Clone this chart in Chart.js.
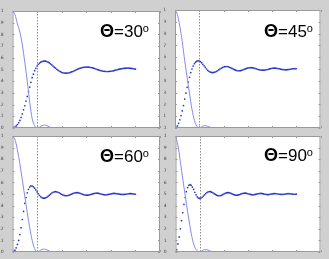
<!DOCTYPE html>
<html>
<head>
<meta charset="utf-8">
<script src="https://cdn.jsdelivr.net/npm/chart.js@4.4.1/dist/chart.umd.min.js"></script>
<style>
	html, body { margin: 0; padding: 0; width: 329px; height: 259px; overflow: hidden; background: #d0d0d0; }
	.panel { position: absolute; }
	.lbl { position: absolute; font-family: "Liberation Sans", Arial, sans-serif; font-size: 17px; line-height: 17px; color: #000; white-space: nowrap; }
	.lbl b { font-weight: bold; font-size: 18px; }
	.lbl sup { font-size: 11px; vertical-align: top; position: relative; top: -3px; }
</style>
</head>
<body>
<div class="panel" style="left:0;top:0;width:164px;height:132px"><canvas id="c30"></canvas></div>
<div class="panel" style="left:164px;top:0;width:165px;height:132px"><canvas id="c45"></canvas></div>
<div class="panel" style="left:0;top:132px;width:164px;height:127px"><canvas id="c60"></canvas></div>
<div class="panel" style="left:164px;top:132px;width:165px;height:127px"><canvas id="c90"></canvas></div>
<div class="lbl" style="left:100px;top:23px"><b>&Theta;</b>=30<sup>o</sup></div>
<div class="lbl" style="left:264px;top:23px"><b>&Theta;</b>=45<sup>o</sup></div>
<div class="lbl" style="left:100px;top:148px"><b>&Theta;</b>=60<sup>o</sup></div>
<div class="lbl" style="left:264px;top:147px"><b>&Theta;</b>=90<sup>o</sup></div>
<script>
// время для сплошной кривой
const solidT = [0, 0.1, 0.2, 0.3, 0.4, 0.5, 0.6, 0.7, 0.8, 0.9, 1, 1.1, 1.2, 1.3, 1.4, 1.5, 1.6, 5]
const solid30 = [1, 0.97, 0.89, 0.82, 0.71, 0.56, 0.4, 0.22, 0.08, 0.02, 0, 0.008, 0.02, 0.025, 0.02, 0.01, 0.002, 0]
const solid45 = [1, 0.96, 0.86, 0.73, 0.57, 0.43, 0.29, 0.16, 0.065, 0.015, 0, 0.01, 0.02, 0.018, 0.01, 0.003, 0, 0]
const solid60 = [1, 0.97, 0.88, 0.76, 0.62, 0.48, 0.34, 0.21, 0.1, 0.03, 0, 0.01, 0.022, 0.025, 0.018, 0.008, 0, 0]
const solid90 = [1, 0.92, 0.78, 0.63, 0.49, 0.35, 0.22, 0.11, 0.04, 0.01, 0, 0.01, 0.02, 0.02, 0.012, 0.004, 0, 0]

// время для точечной кривой
const dotT = [0, 0.05, 0.1, 0.15, 0.2, 0.25, 0.3, 0.35, 0.4, 0.45,
	0.5, 0.55, 0.6, 0.65, 0.7, 0.75, 0.8, 0.85, 0.9, 0.95,
	1, 1.05, 1.1, 1.15, 1.2, 1.25, 1.3, 1.35, 1.4, 1.45,
	1.5, 1.55, 1.6, 1.65, 1.7, 1.75, 1.8, 1.85, 1.9, 1.95,
	2, 2.05, 2.1, 2.15, 2.2, 2.25, 2.3, 2.35, 2.4, 2.45,
	2.5, 2.55, 2.6, 2.65, 2.7, 2.75, 2.8, 2.85, 2.9, 2.95,
	3, 3.05, 3.1, 3.15, 3.2, 3.25, 3.3, 3.35, 3.4, 3.45,
	3.5, 3.55, 3.6, 3.65, 3.7, 3.75, 3.8, 3.85, 3.9, 3.95,
	4, 4.05, 4.1, 4.15, 4.2, 4.25, 4.3, 4.35, 4.4, 4.45,
	4.5, 4.55, 4.6, 4.65, 4.7, 4.75, 4.8, 4.85, 4.9, 4.95, 5]

const dot30 = [0, 0.002, 0.008, 0.018, 0.03, 0.045, 0.065, 0.09, 0.12, 0.155,
	0.19, 0.23, 0.27, 0.31, 0.35, 0.39, 0.43, 0.46, 0.49, 0.51,
	0.53, 0.545, 0.555, 0.563, 0.568, 0.571, 0.572, 0.571, 0.568, 0.563,
	0.556, 0.548, 0.539, 0.53, 0.52, 0.511, 0.502, 0.494, 0.487, 0.481,
	0.476, 0.472, 0.47, 0.469, 0.469, 0.47, 0.472, 0.475, 0.479, 0.483,
	0.488, 0.493, 0.498, 0.503, 0.507, 0.511, 0.514, 0.517, 0.519, 0.52,
	0.521, 0.521, 0.52, 0.519, 0.517, 0.514, 0.511, 0.508, 0.504, 0.5,
	0.496, 0.493, 0.49, 0.487, 0.485, 0.484, 0.483, 0.483, 0.483, 0.484,
	0.485, 0.487, 0.489, 0.492, 0.495, 0.498, 0.501, 0.503, 0.505, 0.507,
	0.509, 0.51, 0.511, 0.511, 0.511, 0.511, 0.51, 0.509, 0.507, 0.506, 0.504]

const dot45 = [0, 0.005, 0.018, 0.04, 0.07, 0.105, 0.145, 0.19, 0.245, 0.295,
	0.345, 0.39, 0.43, 0.47, 0.5, 0.525, 0.545, 0.558, 0.566, 0.57,
	0.568, 0.562, 0.552, 0.54, 0.527, 0.513, 0.5, 0.489, 0.48, 0.474,
	0.471, 0.47, 0.471, 0.474, 0.479, 0.485, 0.492, 0.499, 0.506, 0.512,
	0.517, 0.52, 0.521, 0.521, 0.519, 0.515, 0.51, 0.505, 0.499, 0.494,
	0.49, 0.487, 0.485, 0.485, 0.486, 0.489, 0.493, 0.497, 0.501, 0.505,
	0.508, 0.51, 0.511, 0.511, 0.51, 0.508, 0.505, 0.502, 0.498, 0.495,
	0.493, 0.491, 0.49, 0.49, 0.491, 0.493, 0.495, 0.498, 0.501, 0.504,
	0.506, 0.507, 0.508, 0.507, 0.506, 0.504, 0.502, 0.499, 0.497, 0.495,
	0.494, 0.493, 0.493, 0.494, 0.496, 0.498, 0.5, 0.502, 0.503, 0.503, 0.502]

const dot60 = [0, 0.004, 0.016, 0.036, 0.065, 0.1, 0.15, 0.21, 0.28, 0.35,
	0.42, 0.47, 0.51, 0.54, 0.56, 0.57, 0.569, 0.562, 0.55, 0.535,
	0.518, 0.502, 0.488, 0.476, 0.468, 0.464, 0.464, 0.467, 0.473, 0.481,
	0.49, 0.499, 0.508, 0.515, 0.519, 0.52, 0.519, 0.515, 0.51, 0.504,
	0.498, 0.492, 0.488, 0.486, 0.485, 0.487, 0.49, 0.494, 0.499, 0.504,
	0.508, 0.51, 0.511, 0.511, 0.509, 0.506, 0.502, 0.498, 0.494, 0.491,
	0.49, 0.49, 0.491, 0.494, 0.497, 0.501, 0.504, 0.506, 0.507, 0.507,
	0.506, 0.503, 0.5, 0.497, 0.495, 0.493, 0.493, 0.494, 0.496, 0.498,
	0.501, 0.503, 0.505, 0.505, 0.504, 0.503, 0.501, 0.499, 0.497, 0.496,
	0.496, 0.496, 0.498, 0.5, 0.502, 0.503, 0.503, 0.503, 0.501, 0.5, 0.498]

const dot90 = [0, 0.02, 0.07, 0.13, 0.2, 0.27, 0.34, 0.41, 0.47, 0.52,
	0.555, 0.575, 0.58, 0.575, 0.56, 0.54, 0.515, 0.493, 0.475, 0.465,
	0.462, 0.465, 0.472, 0.482, 0.493, 0.504, 0.513, 0.519, 0.521, 0.52,
	0.516, 0.51, 0.503, 0.496, 0.49, 0.486, 0.485, 0.486, 0.489, 0.494,
	0.5, 0.505, 0.509, 0.511, 0.511, 0.509, 0.505, 0.5, 0.496, 0.492,
	0.49, 0.49, 0.492, 0.495, 0.499, 0.503, 0.506, 0.507, 0.507, 0.505,
	0.502, 0.499, 0.496, 0.494, 0.493, 0.494, 0.496, 0.499, 0.502, 0.504,
	0.505, 0.505, 0.503, 0.501, 0.498, 0.496, 0.495, 0.495, 0.497, 0.499,
	0.501, 0.503, 0.504, 0.504, 0.502, 0.5, 0.498, 0.497, 0.496, 0.497,
	0.498, 0.5, 0.502, 0.503, 0.503, 0.502, 0.5, 0.499, 0.498, 0.498, 0.499]

// вертикальная пунктирная линия
const markerT = 1
const xTicks = [0, 1, 2, 3, 4, 5, 6]
const yTicks = [0, 0.1, 0.2, 0.3, 0.4, 0.5, 0.6, 0.7, 0.8, 0.9, 1]

const framePlugin = {
	id: 'frame',
	beforeDraw(chart) {
		const { ctx, chartArea: a } = chart
		ctx.save()
		ctx.fillStyle = '#ffffff'
		ctx.fillRect(a.left, a.top, a.right - a.left, a.bottom - a.top)
		ctx.restore()
	},
	beforeDatasetsDraw(chart) {
		const { ctx, chartArea: a, scales } = chart
		const px = Math.round(scales.x.getPixelForValue(markerT)) + 0.5
		ctx.save()
		ctx.strokeStyle = '#8c8c8c'
		ctx.lineWidth = 1
		ctx.setLineDash([1.5, 1.5])
		ctx.beginPath()
		ctx.moveTo(px, a.top)
		ctx.lineTo(px, a.bottom)
		ctx.stroke()
		ctx.restore()
	},
	afterDraw(chart) {
		const { ctx, chartArea: a, scales } = chart
		ctx.save()
		ctx.strokeStyle = '#9a9a9a'
		ctx.lineWidth = 1
		ctx.strokeRect(a.left + 0.5, a.top + 0.5, a.right - a.left - 1, a.bottom - a.top - 1)
		ctx.beginPath()
		xTicks.forEach(v => {
			const p = Math.round(scales.x.getPixelForValue(v)) + 0.5
			ctx.moveTo(p, a.bottom); ctx.lineTo(p, a.bottom - 2)
			ctx.moveTo(p, a.top); ctx.lineTo(p, a.top + 2)
		})
		yTicks.forEach(v => {
			const p = Math.round(scales.y.getPixelForValue(v)) + 0.5
			ctx.moveTo(a.left, p); ctx.lineTo(a.left + 2, p)
			ctx.moveTo(a.right, p); ctx.lineTo(a.right - 2, p)
		})
		ctx.stroke()
		ctx.restore()
	}
}

function toPoints(ts, vs) {
	return ts.map((t, i) => ({ x: t, y: vs[i] }))
}

function makeChart(id, solid, dots, box) {
	const el = document.getElementById(id)
	new Chart(el, {
		type: 'line',
		data: {
			datasets: [
				{
					data: toPoints(solidT, solid),
					borderColor: '#8589ea',
					borderWidth: 1,
					pointRadius: 0,
					cubicInterpolationMode: 'monotone',
				},
				{
					data: toPoints(dotT, dots),
					showLine: false,
					pointRadius: 0.85,
					pointBorderWidth: 0,
					pointBackgroundColor: '#2434c8',
				}
			]
		},
		options: {
			responsive: true,
			maintainAspectRatio: false,
			animation: false,
			layout: { padding: { top: box.top, right: box.right, left: 0, bottom: 0 } },
			plugins: { legend: { display: false }, tooltip: { enabled: false } },
			scales: {
				x: {
					type: 'linear', min: 0, max: 6,
					afterFit: s => { s.height = box.xh },
					ticks: { stepSize: 1, padding: 0, maxRotation: 0, color: '#444', font: { size: 4.5, family: 'DejaVu Sans' } },
					grid: { display: false },
					border: { display: false },
				},
				y: {
					min: 0, max: 1,
					afterFit: s => { s.width = box.yw },
					ticks: {
						stepSize: 0.1, padding: 1, color: '#444', font: { size: 4.5, family: 'DejaVu Sans' },
						callback: v => (v === 0 || v === 1) ? String(v) : v.toFixed(1)
					},
					grid: { display: false },
					border: { display: false },
				}
			}
		},
		plugins: [framePlugin]
	})
}

makeChart('c30', solid30, dot30, { top: 11, right: 4, xh: 4, yw: 12.5 })
makeChart('c45', solid45, dot45, { top: 10, right: 8.5, xh: 4, yw: 11 })
makeChart('c60', solid60, dot60, { top: 2, right: 4, xh: 7, yw: 12.5 })
makeChart('c90', solid90, dot90, { top: 2, right: 8.5, xh: 7, yw: 11.5 })
</script>
</body>
</html>
